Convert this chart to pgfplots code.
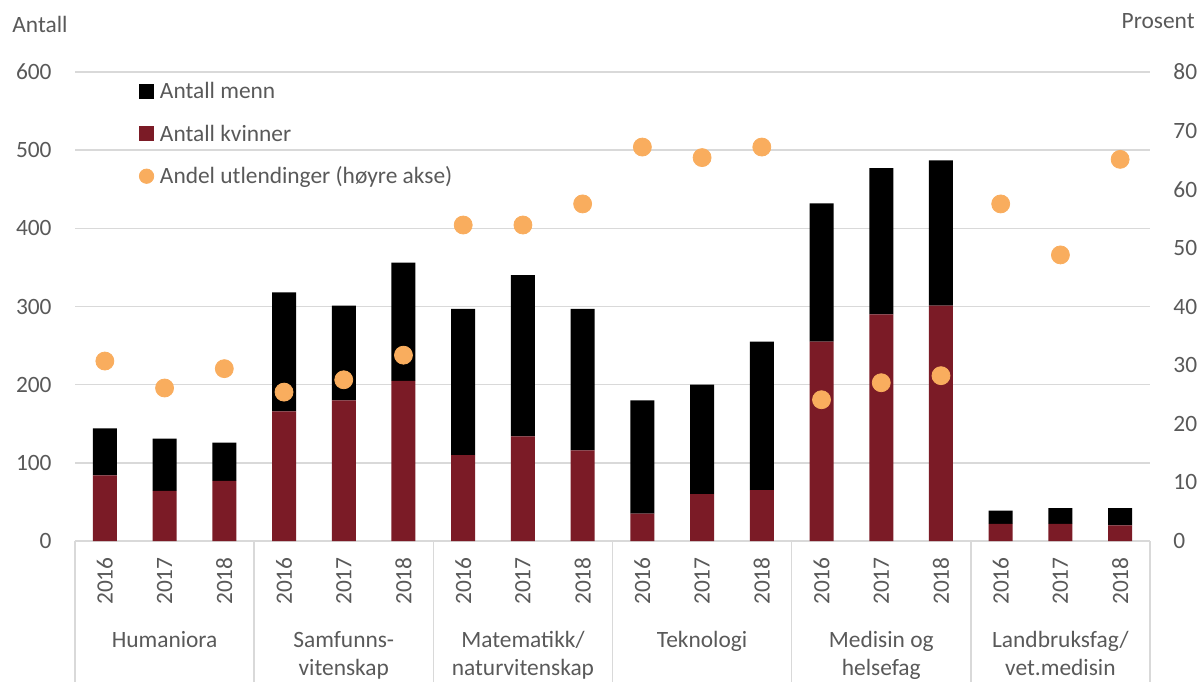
\documentclass[border=0pt]{standalone}
\usepackage{pgfplots}
\pgfplotsset{compat=1.18}
\usepackage{fontspec}
\setmainfont{Carlito}
\definecolor{kv}{HTML}{7B1B26}
\definecolor{orn}{HTML}{F9AD5E}
\definecolor{tx}{HTML}{595959}
\definecolor{gr}{HTML}{D9D9D9}

\pgfplotstableread{
x kv menn
0 84 60
1 64 67
2 77 49
3 166 152
4 180 121
5 205 151
6 110 187
7 134 206
8 116 181
9 35 145
10 60 140
11 65 190
12 255 177
13 290 187
14 301 186
15 22 17
16 22 20
17 20 22
}\bars

\pgfplotstableread{
x p
0 30.7
1 26.1
2 29.4
3 25.4
4 27.5
5 31.7
6 53.9
7 53.9
8 57.5
9 67.2
10 65.4
11 67.2
12 24.1
13 27.0
14 28.2
15 57.5
16 48.8
17 65.1
}\andel

\begin{document}
\begin{tikzpicture}[font=\fontsize{11.7pt}{14pt}\selectfont]
\pgfplotsset{
  base/.style={
    at={(0,0)}, anchor=south west, scale only axis,
    width=537.5pt, height=234.5pt,
    xmin=-0.5, xmax=17.5,
    /pgf/number format/assume math mode=true,
    tick label style={text=tx, font=\fontsize{11.7pt}{14pt}\selectfont},
    major tick length=0pt,
    clip=false,
  }
}
\begin{axis}[base,
  ymin=0, ymax=600, ytick={0,100,...,600},
  ymajorgrids, grid style={gr, line width=0.75pt},
  axis y line*=left, y axis line style={draw=none},
  axis x line*=bottom, x axis line style={gr, line width=0.75pt},
  xtick={0,...,17},
  xticklabels={2016,2017,2018,2016,2017,2018,2016,2017,2018,2016,2017,2018,2016,2017,2018,2016,2017,2018},
  xticklabel style={rotate=90, anchor=east, inner xsep=8pt, inner ysep=0pt},
  yticklabel style={anchor=east, inner sep=0pt, xshift=-11.5pt},
  ybar stacked, bar width=12pt,
]
\addplot[fill=kv, draw=none] table[x=x, y=kv] {\bars};
\addplot[fill=black, draw=none] table[x=x, y=menn] {\bars};
\pgfplotsinvokeforeach{-0.5,2.5,5.5,8.5,11.5,14.5,17.5}{
  \draw[gr, line width=0.75pt] (axis cs:#1,0) -- ([yshift=-70.5pt]axis cs:#1,0);
}
\node[text=tx, anchor=base] at ([yshift=-53pt]axis cs:1,0) {Humaniora};
\node[text=tx, anchor=base] at ([yshift=-53pt]axis cs:4,0) {Samfunns-};
\node[text=tx, anchor=base] at ([yshift=-67.25pt]axis cs:4,0) {vitenskap};
\node[text=tx, anchor=base] at ([yshift=-53pt]axis cs:7,0) {Matematikk/};
\node[text=tx, anchor=base] at ([yshift=-67.25pt]axis cs:7,0) {naturvitenskap};
\node[text=tx, anchor=base] at ([yshift=-53pt]axis cs:10,0) {Teknologi};
\node[text=tx, anchor=base] at ([yshift=-53pt]axis cs:13,0) {Medisin og};
\node[text=tx, anchor=base] at ([yshift=-67.25pt]axis cs:13,0) {helsefag};
\node[text=tx, anchor=base] at ([yshift=-53pt]axis cs:16,0) {Landbruksfag/};
\node[text=tx, anchor=base] at ([yshift=-67.25pt]axis cs:16,0) {vet.medisin};
\end{axis}
\begin{axis}[base,
  ymin=0, ymax=80, ytick={0,10,...,80},
  axis y line*=right, y axis line style={draw=none},
  axis x line=none,
  yticklabel style={anchor=west, inner sep=0pt},
  yticklabel={\makebox[0pt][l]{\hspace*{11pt}\pgfmathprintnumber{\tick}}},
  legend cell align=left,
  legend style={draw=none, fill=none, at={(0.0595,0.9753)}, anchor=north west,
    inner sep=0pt, outer sep=0pt, row sep=13.65pt, text=tx,
    nodes={inner sep=0pt, text height=7.6pt, text depth=0pt},
    font=\fontsize{11.7pt}{14pt}\selectfont},
]
\addlegendimage{legend image code/.code={\fill[black] (-10pt,-3.5pt) rectangle (-3pt,3.5pt); \path (0,0);}}
\addlegendentry{Antall menn}
\addlegendimage{legend image code/.code={\fill[kv] (-10pt,-3.5pt) rectangle (-3pt,3.5pt); \path (0,0);}}
\addlegendentry{Antall kvinner}
\addlegendimage{legend image code/.code={\fill[orn] (-6.5pt,0pt) circle (3.6pt); \path (0,0);}}
\addlegendentry{Andel utlendinger (høyre akse)}
\addplot[only marks, mark=*, mark size=4.5pt, color=orn, forget plot] table[x=x, y=p] {\andel};
\end{axis}
\node[text=tx, anchor=base west, inner sep=0pt] at (-31.5pt,254.5pt) {Antall};
\node[text=tx, anchor=base east, inner sep=0pt] at (560pt,256.5pt) {Prosent};
\pgfresetboundingbox
\useasboundingbox (-37.5pt,-70.5pt) rectangle (562pt,270.5pt);
\end{tikzpicture}
\end{document}
